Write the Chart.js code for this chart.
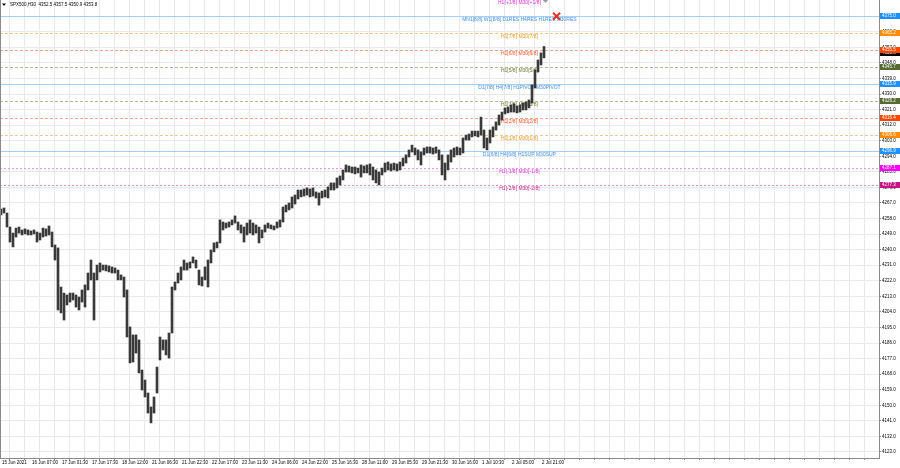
<!DOCTYPE html>
<html>
<head>
<meta charset="utf-8">
<script src="https://cdn.jsdelivr.net/npm/chart.js@4.4.1/dist/chart.umd.min.js"></script>
<style>
    html, body { margin: 0; padding: 0; background: #ffffff; }
    #wrap { width: 900px; height: 468px; position: relative; }
</style>
</head>
<body>
<div id="wrap"><canvas id="myChart"></canvas></div>
<script>
// SPX500 H30 - one high/low range per bar group
const barHigh = [
    4263.5, 4264.1, 4261.2, 4253.1, 4249.6, 4252.5, 4253.1, 4251.4, 4252.0, 4251.4,
    4250.8, 4251.4, 4250.2, 4249.6, 4252.5, 4252.0, 4253.7, 4250.2, 4242.7, 4241.0,
    4218.4, 4214.9, 4213.8, 4214.9, 4214.9, 4213.8, 4212.6, 4216.7, 4219.6, 4226.5,
    4234.0, 4226.5, 4231.1, 4232.3, 4231.1, 4231.1, 4230.6, 4230.0, 4229.4, 4228.2,
    4225.4, 4224.2, 4216.7, 4195.3, 4190.7, 4190.7, 4187.8, 4170.4, 4164.6, 4157.1,
    4149.0, 4154.8, 4172.1, 4189.5, 4187.8, 4187.8, 4191.8, 4218.4, 4221.3, 4226.5,
    4230.0, 4234.0, 4232.3, 4232.9, 4235.8, 4234.0, 4228.2, 4224.2, 4230.0, 4234.0,
    4239.8, 4243.9, 4244.4, 4257.2, 4256.0, 4255.4, 4256.0, 4257.2, 4259.5, 4256.0,
    4254.3, 4253.1, 4255.4, 4257.2, 4255.4, 4254.3, 4253.1, 4251.4, 4254.3, 4255.4,
    4254.3, 4253.7, 4256.0, 4257.2, 4264.7, 4265.8, 4267.0, 4270.5, 4271.6, 4274.5,
    4274.5, 4275.1, 4275.7, 4275.1, 4275.7, 4273.4, 4272.8, 4273.9, 4274.5, 4276.3,
    4278.6, 4278.6, 4281.5, 4282.6, 4286.1, 4289.0, 4288.4, 4287.8, 4287.8, 4287.2,
    4289.0, 4288.4, 4289.0, 4289.6, 4287.8, 4286.1, 4284.9, 4287.2, 4290.1, 4290.7,
    4289.6, 4290.1, 4289.6, 4290.7, 4293.0, 4294.8, 4297.7, 4300.5, 4298.8, 4297.7,
    4296.5, 4298.8, 4299.4, 4299.4, 4298.8, 4299.4, 4297.7, 4294.8, 4290.1, 4294.8,
    4297.7, 4298.8, 4299.4, 4298.8, 4304.6, 4306.3, 4306.9, 4308.6, 4308.6, 4308.6,
    4316.7, 4309.2, 4304.6, 4309.2, 4311.0, 4313.9, 4317.9, 4319.6, 4322.0, 4322.5,
    4323.7, 4324.3, 4323.1, 4323.7, 4324.8, 4325.4, 4326.6, 4335.3, 4343.9, 4349.7,
    4353.8, 4357.5
];
const barLow = [
    4260.1, 4261.2, 4253.1, 4244.4, 4241.6, 4247.3, 4249.6, 4248.5, 4249.1, 4248.5,
    4248.5, 4249.1, 4244.4, 4245.6, 4247.3, 4247.9, 4248.5, 4241.6, 4234.0, 4205.1,
    4203.4, 4199.3, 4208.0, 4209.7, 4210.9, 4206.8, 4205.1, 4209.7, 4206.8, 4216.7,
    4222.5, 4199.3, 4222.5, 4227.1, 4228.2, 4227.7, 4227.1, 4226.5, 4226.5, 4222.5,
    4222.5, 4212.6, 4189.5, 4174.5, 4175.0, 4180.2, 4168.7, 4158.8, 4154.8, 4145.5,
    4139.8, 4145.5, 4157.1, 4176.2, 4182.0, 4179.1, 4177.3, 4191.8, 4216.7, 4220.7,
    4222.5, 4228.2, 4228.2, 4229.4, 4232.3, 4229.4, 4219.6, 4219.0, 4222.5, 4218.4,
    4232.3, 4238.7, 4241.0, 4243.9, 4251.4, 4252.5, 4253.1, 4254.3, 4255.4, 4251.4,
    4249.6, 4244.4, 4248.5, 4249.6, 4248.5, 4249.6, 4243.9, 4246.8, 4250.2, 4252.5,
    4252.0, 4251.4, 4252.5, 4253.1, 4256.0, 4261.8, 4263.0, 4264.1, 4266.4, 4269.3,
    4270.5, 4271.0, 4271.6, 4270.5, 4271.0, 4269.9, 4265.8, 4269.9, 4270.5, 4269.9,
    4274.5, 4274.5, 4275.7, 4277.4, 4280.3, 4284.9, 4284.9, 4284.4, 4283.8, 4284.4,
    4282.0, 4284.4, 4284.4, 4283.2, 4280.3, 4278.6, 4277.4, 4283.2, 4284.9, 4286.1,
    4285.5, 4286.1, 4285.5, 4286.1, 4288.4, 4290.1, 4293.6, 4296.5, 4294.8, 4291.9,
    4289.0, 4294.8, 4295.9, 4295.9, 4295.3, 4295.9, 4291.9, 4283.2, 4280.3, 4286.1,
    4290.7, 4293.6, 4294.8, 4294.8, 4295.9, 4303.4, 4303.4, 4305.2, 4305.8, 4305.2,
    4306.3, 4298.8, 4297.7, 4301.7, 4305.2, 4309.2, 4312.1, 4315.0, 4318.5, 4319.1,
    4319.6, 4319.6, 4319.1, 4319.6, 4320.8, 4320.8, 4322.0, 4324.8, 4333.5, 4342.8,
    4346.8, 4350.9
];

const timeLabels = [
    "15 Jun 2021", "16 Jun 07:00", "17 Jun 01:30", "17 Jun 17:30", "18 Jun 12:00",
    "21 Jun 06:30", "21 Jun 22:30", "22 Jun 17:00", "23 Jun 11:30", "24 Jun 06:00",
    "24 Jun 22:00", "25 Jun 16:30", "28 Jun 11:00", "29 Jun 05:30", "29 Jun 21:30",
    "30 Jun 16:00", "1 Jul 10:30", "2 Jul 05:00", "2 Jul 21:00"
];

const priceTicks = [];
for (let v = 4123; v <= 4375; v += 9) priceTicks.push(v);

// Murrey math levels
const levelPrices = [4384.8, 4375.0, 4365.2, 4355.5, 4345.7, 4335.9, 4326.2, 4316.4, 4306.6, 4296.9, 4287.1, 4277.3];
const levelNames = [
    "H1[+1/8] M30[+1/8]",
    "MN1[8/8] W1[8/8] D1RES H4RES H1RES M30RES",
    "H1[7/8] M30[7/8]",
    "H1[6/8] M30[6/8]",
    "H1[5/8] M30[5/8]",
    "D1[7/8] H4[7/8] H1PIVOT M30PIVOT",
    "H1[3/8] M30[3/8]",
    "H1[2/8] M30[2/8]",
    "H1[1/8] M30[1/8]",
    "D1[6/8] H4[6/8] H1SUP M30SUP",
    "H1[-1/8] M30[-1/8]",
    "H1[-2/8] M30[-2/8]"
];
const levelKinds = ["m", "b", "o", "r", "g", "b", "g", "r", "o", "b", "m", "dm"];

const lastPrice = 4353.8;
const titleText = "SPX500,H30  4352.5 4357.5 4350.9 4353.8";
const crossMarks = [{ x: 185.2, y: 4375.0 }];

const levelStyle = {
    b: { line: "#a3cff6", text: "#3d8fe4", box: "#1e90ff", dash: [] },
    o: { line: "#f7c48e", text: "#f39a22", box: "#ff8c00", dash: [3, 2] },
    r: { line: "#f5a48f", text: "#ff5526", box: "#ff4500", dash: [3, 2] },
    g: { line: "#b7b98f", text: "#6f7d2c", box: "#556b2f", dash: [3, 2] },
    m: { line: "#f590f5", text: "#e22ce2", box: "#ff00ff", dash: [2, 2] },
    dm: { line: "#e392c6", text: "#c41a8a", box: "#c71585", dash: [2, 2] },
};

const smallFont = "'Liberation Sans', Arial, sans-serif";

const levelsPlugin = {
    id: "levels",
    beforeDatasetsDraw(chart) {
        const { ctx, chartArea: a, scales } = chart;
        const y = scales.y;
        const textX = scales.x.getPixelForValue(172.8);
        ctx.save();
        ctx.beginPath();
        ctx.rect(a.left, a.top, a.right - a.left, a.bottom - a.top);
        ctx.clip();
        levelPrices.forEach((p, i) => {
            const st = levelStyle[levelKinds[i]];
            const py = Math.round(y.getPixelForValue(p)) + 0.5;
            ctx.strokeStyle = st.line;
            ctx.lineWidth = 1;
            ctx.setLineDash(st.dash);
            ctx.beginPath();
            ctx.moveTo(a.left, py);
            ctx.lineTo(a.right, py);
            ctx.stroke();
            ctx.setLineDash([]);
            ctx.fillStyle = st.text;
            ctx.font = "5px " + smallFont;
            ctx.textAlign = "center";
            ctx.textBaseline = "middle";
            ctx.fillText(levelNames[i], textX, py + 3);
        });
        ctx.restore();
    },
    afterDraw(chart) {
        const { ctx, chartArea: a, scales } = chart;
        const y = scales.y;
        ctx.save();
        // left frame
        ctx.fillStyle = "#8a8a8a";
        ctx.fillRect(0, 0, 1, a.bottom);
        // price boxes on the axis
        const box = (p, col) => {
            const py = Math.round(y.getPixelForValue(p));
            if (py < a.top || py > a.bottom) return;
            ctx.fillStyle = col;
            ctx.fillRect(a.right + 1, py - 3, chart.width - a.right - 1, 6);
            ctx.fillStyle = "#ffffff";
            ctx.font = "4.5px " + smallFont;
            ctx.textAlign = "left";
            ctx.textBaseline = "middle";
            ctx.fillText(p.toFixed(1), a.right + 3, py);
        };
        box(lastPrice, "#000000");
        levelPrices.forEach((p, i) => box(p, levelStyle[levelKinds[i]].box));
        // title
        ctx.fillStyle = "#000000";
        ctx.beginPath();
        ctx.moveTo(2, 3.5);
        ctx.lineTo(6, 3.5);
        ctx.lineTo(4, 6);
        ctx.closePath();
        ctx.fill();
        ctx.font = "4.5px " + smallFont;
        ctx.textAlign = "left";
        ctx.textBaseline = "middle";
        ctx.fillText(titleText, 10, 5);
        // chart shift marker
        ctx.fillStyle = "#9a9a9a";
        const sx = scales.x.getPixelForValue(181.5);
        ctx.beginPath();
        ctx.moveTo(sx - 2.5, 0);
        ctx.lineTo(sx + 2.5, 0);
        ctx.lineTo(sx, 3);
        ctx.closePath();
        ctx.fill();
        ctx.restore();
    },
};

const bars = barHigh.map((h, i) => ({ x: i, y: [barLow[i], h] }));

document.addEventListener("DOMContentLoaded", function () {
    var ctx = document.getElementById("myChart").getContext("2d");

    new Chart(ctx, {
        type: "bar",
        data: {
            datasets: [
                {
                    data: bars,
                    backgroundColor: "#3a3a3a",
                    barThickness: 2,
                    borderWidth: 0,
                },
                {
                    type: "scatter",
                    data: crossMarks,
                    pointStyle: "crossRot",
                    radius: 5,
                    borderWidth: 2,
                    borderColor: "#e2322b",
                },
            ],
        },
        options: {
            responsive: true,
            maintainAspectRatio: false,
            animation: false,
            layout: { padding: 0, autoPadding: false },
            plugins: {
                legend: { display: false },
                tooltip: { enabled: false },
            },
            scales: {
                x: {
                    type: "linear",
                    offset: false,
                    min: -1 / 3,
                    max: 293 - 1 / 3,
                    afterBuildTicks: (s) => {
                        s.ticks = [];
                        for (let k = 0; 2 + 15 * k < 879; k++) {
                            s.ticks.push({ value: (2 + 15 * k) / 3 - 1 / 3 });
                        }
                    },
                    afterFit: (s) => {
                        s.height = 10;
                        s.paddingLeft = 0;
                        s.paddingRight = 0;
                    },
                    ticks: {
                        autoSkip: false,
                        maxRotation: 0,
                        align: "start",
                        padding: 0,
                        color: "#000000",
                        font: { size: 4.5, family: smallFont },
                        callback: (v, i) => (i % 2 === 0 ? timeLabels[i / 2] || "" : ""),
                    },
                    grid: { color: "#e9e9e9", tickLength: 2, tickColor: "#8a8a8a" },
                    border: { color: "#8a8a8a" },
                },
                y: {
                    position: "right",
                    min: 4119.5,
                    max: 4384.4,
                    afterBuildTicks: (s) => {
                        s.ticks = priceTicks.map((v) => ({ value: v }));
                    },
                    afterFit: (s) => {
                        s.width = 21;
                        s.paddingTop = 0;
                        s.paddingBottom = 0;
                    },
                    ticks: {
                        padding: 1,
                        color: "#000000",
                        font: { size: 4.5, family: smallFont },
                        callback: (v) => v.toFixed(1),
                    },
                    grid: { color: "#e9e9e9", tickLength: 2, tickColor: "#8a8a8a" },
                    border: { color: "#8a8a8a" },
                },
            },
        },
        plugins: [levelsPlugin],
    });
});
</script>
</body>
</html>
